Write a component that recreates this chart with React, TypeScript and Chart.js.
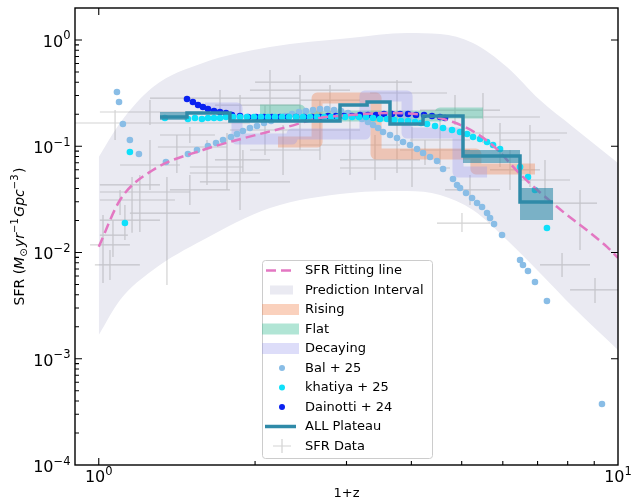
import React, { useEffect, useRef } from 'react';
import { Chart, registerables } from 'chart.js';

Chart.register(...registerables);

// ---------------- data ----------------
// prediction interval (1+z, lower / upper SFR)
const bandX = [1.0, 1.099, 1.272, 1.587, 2.137, 3.047, 3.924, 4.542, 5.256, 6.112, 7.075, 8.19, 10];
const bandUpper = [0.0792, 0.1655, 0.361, 0.608, 0.859, 1.044, 1.164, 1.139, 0.937, 0.557, 0.272, 0.1518, 0.0696];
const bandLower = [0.00167, 0.00357, 0.00684, 0.0131, 0.0262, 0.0363, 0.0379, 0.0348, 0.0251, 0.0131, 0.00641, 0.00307, 0.00121];

// SFR fitting line
const fitX = [1.0, 1.099, 1.272, 1.587, 1.846, 2.304, 2.667, 3.047, 3.591, 4.811, 5.668, 6.561, 7.629, 9.524, 10];
const fitY = [0.0113, 0.0312, 0.0598, 0.0922, 0.1145, 0.1518, 0.1844, 0.1968, 0.2056, 0.1691, 0.1073, 0.0514, 0.0269, 0.0113, 0.0089];

// Rising / Flat / Decaying step curves (bin edges, bin values)
const risingEdges = [2.214, 2.633, 3.42, 5.325, 6.92];
const risingVals = [0.1096, 0.284, 0.0845, 0.0611];
const flatEdges = [2.044, 2.441, 4.542, 5.495];
const flatVals = [0.219, 0.1926, 0.2056];
const decayEdges = [1.602, 1.846, 2.356, 3.256, 3.924, 4.919, 5.595];
const decayVals = [0.229, 0.117, 0.1304, 0.297, 0.1332, 0.0572];

// ALL Plateau
const plateauEdges = [1.312, 1.479, 1.789, 2.915, 3.287, 3.638, 4.212, 5.029, 6.476, 7.497];
const plateauSFR = [0.1885, 0.2056, 0.1728, 0.244, 0.261, 0.162, 0.1926, 0.0809, 0.0299];
const plateauBoxBin = [0, 7, 8];
const plateauBoxLo = [0.177, 0.0696, 0.0202];
const plateauBoxHi = [0.21, 0.0922, 0.0405];

// Bal + 25
const balX = [1.084, 1.094, 1.113, 1.148, 1.195, 1.347, 1.485, 1.546, 1.623, 1.682, 1.735, 1.797, 1.846, 1.895, 1.955, 2.017, 2.081, 2.147, 2.214, 2.284, 2.356, 2.43, 2.506, 2.586, 2.668, 2.752, 2.839, 2.928, 3.02, 3.115, 3.214, 3.3, 3.375, 3.451, 3.528, 3.639, 3.753, 3.855, 3.976, 4.102, 4.212, 4.345, 4.482, 4.603, 4.811, 4.898, 4.963, 5.097, 5.235, 5.352, 5.472, 5.595, 5.67, 5.771, 5.979, 6.477, 6.561, 6.708, 6.92, 7.297, 9.314];
const balY = [0.324, 0.261, 0.162, 0.1145, 0.0845, 0.0711, 0.0845, 0.0922, 0.1006, 0.1073, 0.1145, 0.1222, 0.1304, 0.1392, 0.1485, 0.1551, 0.1655, 0.1728, 0.1844, 0.1926, 0.2011, 0.2101, 0.2147, 0.2194, 0.2242, 0.2242, 0.2194, 0.2147, 0.2056, 0.1926, 0.1805, 0.1691, 0.1585, 0.1485, 0.1362, 0.1276, 0.1196, 0.1096, 0.1027, 0.0942, 0.0864, 0.0792, 0.0726, 0.0611, 0.0492, 0.0432, 0.0405, 0.0363, 0.0326, 0.0292, 0.0268, 0.0235, 0.0211, 0.0185, 0.0146, 0.0085, 0.00763, 0.0067, 0.00528, 0.0035, 0.000375];

// khatiya + 25
const khatiyaX = [1.123, 1.148, 1.341, 1.485, 1.532, 1.58, 1.623, 1.667, 1.712, 1.758, 1.814, 1.871, 1.929, 1.99, 2.053, 2.118, 2.185, 2.254, 2.325, 2.399, 2.474, 2.552, 2.633, 2.716, 2.802, 2.889, 2.981, 3.075, 3.172, 3.272, 3.375, 3.48, 3.591, 3.704, 3.821, 3.941, 4.066, 4.175, 4.288, 4.443, 4.603, 4.79, 4.963, 5.12, 5.258, 5.424, 5.595, 5.746, 5.927, 6.477, 6.708, 6.92, 7.297];
const khatiyaY = [0.01895, 0.0883, 0.1844, 0.1805, 0.1844, 0.1805, 0.1844, 0.1844, 0.1844, 0.1885, 0.1885, 0.1885, 0.1885, 0.1885, 0.1885, 0.1885, 0.1885, 0.1885, 0.1885, 0.1885, 0.1885, 0.1885, 0.1885, 0.1885, 0.1885, 0.1885, 0.1885, 0.1885, 0.1885, 0.1885, 0.1844, 0.1805, 0.1805, 0.1767, 0.1728, 0.1728, 0.1691, 0.1655, 0.162, 0.1551, 0.1485, 0.1422, 0.1362, 0.1304, 0.1222, 0.117, 0.1096, 0.1027, 0.0942, 0.0638, 0.0514, 0.0388, 0.017];

// Dainotti + 24
const dainottiX = [1.479, 1.518, 1.553, 1.587, 1.623, 1.667, 1.712, 1.758, 1.805, 1.871, 1.939, 2.009, 2.081, 2.156, 2.234, 2.314, 2.399, 2.485, 2.574, 2.668, 2.764, 2.863, 2.967, 3.075, 3.186, 3.3, 3.42, 3.543, 3.671, 3.804, 3.941, 4.083, 4.231, 4.383, 4.542, 4.644];
const dainottiY = [0.2784, 0.2609, 0.2444, 0.2341, 0.2242, 0.2147, 0.2101, 0.2056, 0.1968, 0.1926, 0.1885, 0.1885, 0.1885, 0.1885, 0.1885, 0.1885, 0.1885, 0.1885, 0.1885, 0.1885, 0.1926, 0.1926, 0.1926, 0.1926, 0.1968, 0.1968, 0.1968, 0.2011, 0.2011, 0.2011, 0.2011, 0.1968, 0.1968, 0.1926, 0.1885, 0.1844];

// SFR Data with error bars
const sfrX = [1.075, 1.255, 1.019, 1.065, 1.159, 1.2, 1.353, 1.099, 1.123, 1.414, 1.498, 1.616, 1.766, 1.871, 1.895, 1.712, 2.137, 2.441, 3.753, 4.011, 5.006, 5.495, 5.926, 6.768, 8.45, 7.802, 9.031, 2.667, 3.047, 2.264, 2.09, 3.404, 4.542, 4.854, 1.255, 1.498, 1.051, 1.871, 2.788, 4.249, 6.194, 7.234, 5.188];
const sfrXlo = [0.9, 1.005, 0.962, 1.005, 1.005, 1.005, 1.148, 1.005, 1.005, 1.3, 1.312, 1.498, 1.498, 1.566, 1.674, 1.255, 1.955, 2.0, 3.33, 2.915, 4.481, 4.962, 5.188, 5.926, 7.075, 7.075, 8.084, 2.234, 2.441, 1.955, 1.789, 2.915, 3.976, 4.156, 1.099, 1.371, 0.983, 1.674, 2.441, 3.804, 5.668, 6.476, 4.644];
const sfrXhi = [1.955, 1.587, 1.148, 1.138, 1.312, 1.498, 1.566, 1.402, 1.312, 1.766, 1.674, 1.895, 2.044, 2.335, 2.137, 2.441, 3.047, 4.011, 4.685, 4.747, 5.668, 7.075, 7.977, 7.733, 9.112, 8.834, 10, 3.186, 3.804, 2.667, 2.441, 4.156, 5.188, 5.926, 1.433, 1.789, 1.2, 2.441, 3.186, 5.188, 7.075, 8.084, 5.926];
const sfrY = [0.1655, 0.21, 0.0118, 0.0146, 0.0432, 0.0371, 0.0235, 0.0312, 0.0202, 0.0984, 0.1276, 0.0638, 0.056, 0.0461, 0.0743, 0.284, 0.338, 0.402, 0.317, 0.0624, 0.0189, 0.1885, 0.1332, 0.1145, 0.0292, 0.00763, 0.00444, 0.1422, 0.1027, 0.0922, 0.1422, 0.0743, 0.1145, 0.219, 0.0666, 0.0388, 0.00763, 0.244, 0.272, 0.0922, 0.0598, 0.0481, 0.0388];
const sfrYlo = [0.1145, 0.1585, 0.00516, 0.00907, 0.0153, 0.0156, 0.00494, 0.0225, 0.0131, 0.056, 0.1073, 0.0432, 0.0388, 0.0251, 0.0572, 0.219, 0.1767, 0.0922, 0.056, 0.0413, 0.0156, 0.1073, 0.0638, 0.0413, 0.01056, 0.00588, 0.00335, 0.0743, 0.0536, 0.0536, 0.0827, 0.0481, 0.0666, 0.1585, 0.0388, 0.028, 0.00551, 0.1767, 0.197, 0.0666, 0.0388, 0.0312, 0.028];
const sfrYhi = [0.219, 0.272, 0.0225, 0.0202, 0.0514, 0.0536, 0.0514, 0.0388, 0.028, 0.1276, 0.1518, 0.1145, 0.1332, 0.1145, 0.0922, 0.338, 0.522, 0.469, 0.42, 0.1518, 0.0235, 0.317, 0.1655, 0.1585, 0.0388, 0.00989, 0.00575, 0.272, 0.1767, 0.1585, 0.244, 0.1276, 0.1767, 0.304, 0.1145, 0.0536, 0.01056, 0.304, 0.377, 0.1145, 0.0922, 0.0743, 0.0536];

// axes
const xMajorTicks = [1, 10];
const xTickExps = [0, 1];
const yMajorTicks = [1e-4, 1e-3, 1e-2, 1e-1, 1];
const yTickExps = [-4, -3, -2, -1, 0];

const legendLabels = ['SFR Fitting line', 'Prediction Interval', 'Rising', 'Flat', 'Decaying', 'Bal + 25', 'khatiya + 25', 'Dainotti + 24', 'ALL Plateau', 'SFR Data'];

// ---------------- styles ----------------
const FONT = '"DejaVu Sans", "Noto Sans", sans-serif';
const COL = {
  band: 'rgb(234,234,242)',
  fit: '#e377c2',
  rising: 'rgba(242,140,90,0.4)',
  flat: 'rgba(60,190,150,0.4)',
  decay: 'rgba(150,150,235,0.32)',
  bal: '#89bde6',
  khatiya: '#0ee0fa',
  dainotti: '#0a22f0',
  plateau: '#2f8aa8',
  plateauBox: 'rgba(47,138,168,0.6)',
  sfr: 'rgba(110,110,110,0.3)',
};

type Part = { t: string; f: string; dy: number; gap?: number };

function partsWidth(ctx: CanvasRenderingContext2D, parts: Part[]) {
  let w = 0;
  for (const p of parts) {
    ctx.font = p.f;
    w += ctx.measureText(p.t).width + (p.gap || 0);
  }
  return w;
}

function drawParts(ctx: CanvasRenderingContext2D, parts: Part[], x: number, baseline: number, align: 'left' | 'center' | 'right') {
  const w = partsWidth(ctx, parts);
  let cx = align === 'center' ? x - w / 2 : align === 'right' ? x - w : x;
  ctx.textAlign = 'left';
  ctx.textBaseline = 'alphabetic';
  for (const p of parts) {
    ctx.font = p.f;
    ctx.fillText(p.t, cx, baseline + p.dy);
    cx += ctx.measureText(p.t).width + (p.gap || 0);
  }
}

function powParts(exp: number): Part[] {
  const e = exp < 0 ? '\u2212' + Math.abs(exp) : String(exp);
  return [
    { t: '10', f: `16px ${FONT}`, dy: 0 },
    { t: e, f: `11.5px ${FONT}`, dy: -7.5 },
  ];
}

const framePlugin = {
  id: 'frame',
  afterDatasetsDraw(chart: any) {
    const { ctx, chartArea: a } = chart;
    const sx = chart.scales.x;
    const sy = chart.scales.y;
    ctx.save();
    ctx.strokeStyle = '#000';
    ctx.lineWidth = 1.1;
    ctx.beginPath();
    for (const v of xMajorTicks) {
      const p = sx.getPixelForValue(v);
      if (p < a.left + 1 || p > a.right - 1) continue;
      ctx.moveTo(p, a.bottom); ctx.lineTo(p, a.bottom - 7);
      ctx.moveTo(p, a.top); ctx.lineTo(p, a.top + 7);
    }
    for (let n = -1; n <= 1; n++) {
      for (let k = 2; k <= 9; k++) {
        const v = k * Math.pow(10, n);
        const p = sx.getPixelForValue(v);
        if (p < a.left + 1 || p > a.right - 1) continue;
        ctx.moveTo(p, a.bottom); ctx.lineTo(p, a.bottom - 4);
      }
    }
    for (const v of yMajorTicks) {
      const p = sy.getPixelForValue(v);
      if (p < a.top + 1 || p > a.bottom - 1) continue;
      ctx.moveTo(a.left, p); ctx.lineTo(a.left + 7, p);
      ctx.moveTo(a.right, p); ctx.lineTo(a.right - 7, p);
    }
    for (let n = -4; n <= 0; n++) {
      for (let k = 2; k <= 9; k++) {
        const v = k * Math.pow(10, n);
        const p = sy.getPixelForValue(v);
        if (p < a.top + 1 || p > a.bottom - 1) continue;
        ctx.moveTo(a.left, p); ctx.lineTo(a.left + 4, p);
      }
    }
    ctx.stroke();
    ctx.lineWidth = 1.4;
    ctx.strokeRect(a.left, a.top, a.right - a.left, a.bottom - a.top);

    ctx.fillStyle = '#000';
    xMajorTicks.forEach((v, i) => {
      drawParts(ctx, powParts(xTickExps[i]), sx.getPixelForValue(v), a.bottom + 17, 'center');
    });
    yMajorTicks.forEach((v, i) => {
      drawParts(ctx, powParts(yTickExps[i]), a.left - 4.5, sy.getPixelForValue(v) + 7, 'right');
    });

    // x title
    drawParts(ctx, [{ t: '1+z', f: `13px ${FONT}`, dy: 0 }], (a.left + a.right) / 2, 497, 'center');

    // y title
    ctx.save();
    ctx.translate(19, (a.top + a.bottom) / 2);
    ctx.rotate(-Math.PI / 2);
    const it = `italic 14px ${FONT}`;
    const rm = `14px ${FONT}`;
    const sm = `10px ${FONT}`;
    drawParts(ctx, [
      { t: 'SFR (', f: rm, dy: 0 },
      { t: 'M', f: it, dy: 0 },
      { t: '\u2299', f: sm, dy: 2.5, gap: 1.5 },
      { t: 'yr', f: it, dy: 0 },
      { t: '\u22121', f: sm, dy: -6, gap: 1.5 },
      { t: 'Gpc', f: it, dy: 0 },
      { t: '\u22123', f: sm, dy: -6, gap: 1.5 },
      { t: ')', f: rm, dy: 0 },
    ], 0, 5, 'center');
    ctx.restore();
    ctx.restore();
  },
};

const legendPlugin = {
  id: 'customLegend',
  afterDraw(chart: any) {
    const ctx: CanvasRenderingContext2D = chart.ctx;
    ctx.save();
    const bx = 262, by = 260, bw = 170, bh = 198;
    ctx.beginPath();
    (ctx as any).roundRect(bx + 0.5, by + 0.5, bw, bh, 3);
    ctx.fillStyle = 'rgba(255,255,255,0.8)';
    ctx.fill();
    ctx.strokeStyle = '#cccccc';
    ctx.lineWidth = 1;
    ctx.stroke();

    const row = (i: number) => 270.5 + i * 19.5;
    // fit line
    ctx.strokeStyle = COL.fit;
    ctx.lineWidth = 2.5;
    ctx.setLineDash([10, 5]);
    ctx.beginPath(); ctx.moveTo(266, row(0)); ctx.lineTo(293, row(0)); ctx.stroke();
    ctx.setLineDash([]);
    // prediction
    ctx.fillStyle = COL.band;
    ctx.fillRect(270, row(1) - 4.5, 23, 9);
    // rising / flat / decaying
    [COL.rising, COL.flat, COL.decay].forEach((c, k) => {
      ctx.fillStyle = c;
      ctx.fillRect(262, row(2 + k) - 5.5, 37, 11);
    });
    // dots
    [COL.bal, COL.khatiya, COL.dainotti].forEach((c, k) => {
      ctx.fillStyle = c;
      ctx.beginPath(); ctx.arc(282, row(5 + k), 3, 0, Math.PI * 2); ctx.fill();
    });
    // plateau
    ctx.strokeStyle = COL.plateau;
    ctx.lineWidth = 3.5;
    ctx.beginPath(); ctx.moveTo(265, row(8)); ctx.lineTo(296, row(8)); ctx.stroke();
    // sfr data
    ctx.strokeStyle = COL.sfr;
    ctx.lineWidth = 1.2;
    ctx.beginPath();
    ctx.moveTo(273, row(9)); ctx.lineTo(291, row(9));
    ctx.moveTo(282, row(9) - 7); ctx.lineTo(282, row(9) + 7);
    ctx.stroke();

    ctx.fillStyle = '#000';
    ctx.font = `13px ${FONT}`;
    ctx.textAlign = 'left';
    ctx.textBaseline = 'middle';
    legendLabels.forEach((t, i) => ctx.fillText(t, 305, row(i) + 0.5));
    ctx.restore();
  },
};

export default function App() {
  const ref = useRef<HTMLCanvasElement | null>(null);

  useEffect(() => {
    const canvas = ref.current;
    if (!canvas) return;
    const xy = (xs: number[], ys: number[]) => xs.map((x, i) => ({ x, y: ys[i] }));
    const steps = (edges: number[], vals: number[]) =>
      edges.map((x, i) => ({ x, y: vals[Math.min(i, vals.length - 1)] }));

    const crossData: any[] = [];
    sfrX.forEach((x, i) => {
      crossData.push(
        { x: sfrXlo[i], y: sfrY[i] },
        { x: sfrXhi[i], y: sfrY[i] },
        { x: sfrXhi[i], y: null },
        { x, y: sfrYlo[i] },
        { x, y: sfrYhi[i] },
        { x, y: null },
      );
    });

    const lineBase = { pointRadius: 0, pointHoverRadius: 0, fill: false, spanGaps: false };
    const dots = (data: any[], color: string, order: number) => ({
      data,
      showLine: false,
      pointRadius: 3.3,
      pointHoverRadius: 3.3,
      pointBorderWidth: 0,
      pointBackgroundColor: color,
      pointBorderColor: color,
      borderColor: color,
      backgroundColor: color,
      order,
    });

    const boxes = plateauBoxBin.map((b, i) => {
      const x0 = plateauEdges[b];
      const x1 = plateauEdges[b + 1];
      return {
        ...lineBase,
        data: [
          { x: x0, y: plateauBoxLo[i] },
          { x: x0, y: plateauBoxHi[i] },
          { x: x1, y: plateauBoxHi[i] },
          { x: x1, y: plateauBoxLo[i] },
          { x: x0, y: plateauBoxLo[i] },
        ],
        borderWidth: 0,
        borderColor: 'transparent',
        backgroundColor: COL.plateauBox,
        fill: 'shape',
        order: 2,
      };
    });

    const thick = (edges: number[], vals: number[], color: string, order: number) => ({
      ...lineBase,
      data: steps(edges, vals),
      stepped: true,
      borderColor: color,
      borderWidth: 11,
      borderJoinStyle: 'round',
      borderCapStyle: 'butt',
      order,
    });

    const datasets: any[] = [
      {
        ...lineBase,
        data: steps(plateauEdges, plateauSFR),
        stepped: true,
        borderColor: COL.plateau,
        borderWidth: 3.5,
        borderJoinStyle: 'miter',
        order: 1,
      },
      ...boxes,
      {
        ...lineBase,
        data: xy(fitX, fitY),
        borderColor: COL.fit,
        borderWidth: 2.5,
        borderDash: [10, 5],
        cubicInterpolationMode: 'monotone',
        order: 3,
      },
      dots(xy(khatiyaX, khatiyaY), COL.khatiya, 4),
      dots(xy(dainottiX, dainottiY), COL.dainotti, 5),
      dots(xy(balX, balY), COL.bal, 6),
      thick(decayEdges, decayVals, COL.decay, 7),
      thick(flatEdges, flatVals, COL.flat, 8),
      thick(risingEdges, risingVals, COL.rising, 9),
      {
        ...lineBase,
        data: crossData,
        borderColor: COL.sfr,
        borderWidth: 1.2,
        order: 10,
      },
      {
        ...lineBase,
        data: xy(bandX, bandUpper),
        borderWidth: 0,
        borderColor: 'transparent',
        backgroundColor: COL.band,
        cubicInterpolationMode: 'monotone',
        fill: '+1',
        order: 11,
      },
      {
        ...lineBase,
        data: xy(bandX, bandLower),
        borderWidth: 0,
        borderColor: 'transparent',
        cubicInterpolationMode: 'monotone',
        order: 12,
      },
    ];

    const chart = new Chart(canvas, {
      type: 'line',
      data: { datasets },
      options: {
        animation: false,
        responsive: false,
        maintainAspectRatio: false,
        devicePixelRatio: 1,
        events: [],
        layout: { padding: { left: 75, right: 15, top: 8, bottom: 39 } },
        scales: {
          x: { type: 'logarithmic', min: 0.9, max: 10, display: false },
          y: { type: 'logarithmic', min: 1e-4, max: 2, display: false },
        },
        plugins: {
          legend: { display: false },
          tooltip: { enabled: false },
        },
      } as any,
      plugins: [framePlugin, legendPlugin],
    });
    return () => chart.destroy();
  }, []);

  return (
    <div style={{ position: 'fixed', left: 0, top: 0, width: 633, height: 504, background: '#fff' }}>
      <canvas ref={ref} width={633} height={504} style={{ width: 633, height: 504, display: 'block' }} />
    </div>
  );
}
